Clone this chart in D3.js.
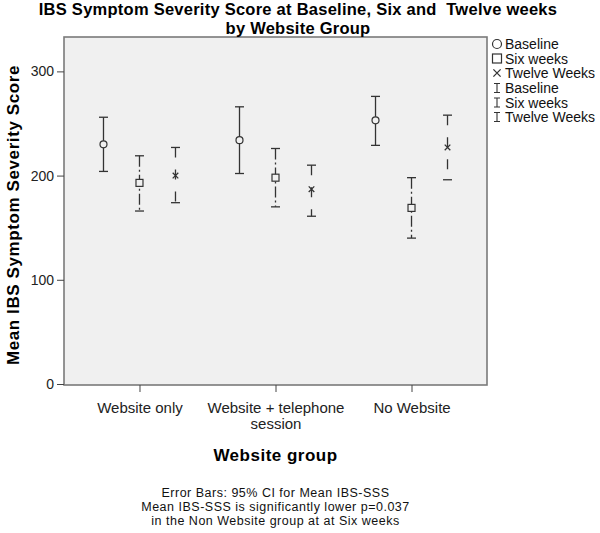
<!DOCTYPE html>
<html>
<head>
<meta charset="utf-8">
<script src="https://cdn.jsdelivr.net/npm/d3@7"></script>
<style>
  body { margin: 0; background: #fff; }
  text { font-family: "Liberation Sans", Arial, sans-serif; white-space: pre; }
</style>
</head>
<body>
<svg id="svg" width="600" height="533"></svg>
<script>
const groups = ['Website only', 'Website + telephone session', 'No Website'];
const series = ['Baseline', 'Six weeks', 'Twelve Weeks'];
const yTicks = [0, 100, 200, 300];

// mean and 95% CI, one array per time point, in group order
const baselineMean = [230, 234, 253];
const baselineLow = [204, 202, 229];
const baselineHigh = [256, 266, 276];
const sixMean = [193, 198, 169];
const sixLow = [166, 170, 140];
const sixHigh = [219, 226, 198];
const twelveMean = [200, 187, 227];
const twelveLow = [174, 161, 196];
const twelveHigh = [227, 210, 258];

const titleLines = ['IBS Symptom Severity Score at Baseline, Six and  Twelve weeks', 'by Website Group'];
const notes = [
  'Error Bars: 95% CI for Mean IBS-SSS',
  'Mean IBS-SSS is significantly lower p=0.037',
  'in the Non Website group at at Six weeks'
];

const margin = { top: 37, right: 113, bottom: 148, left: 64 };
const width = 600 - margin.left - margin.right;
const height = 533 - margin.top - margin.bottom;

const seriesData = [
  { name: series[0], mean: baselineMean, low: baselineLow, high: baselineHigh, dash: null },
  { name: series[1], mean: sixMean, low: sixLow, high: sixHigh, dash: '11,3,2,3' },
  { name: series[2], mean: twelveMean, low: twelveLow, high: twelveHigh, dash: '10,12' }
];

const rows = [];
seriesData.forEach((s) => {
  groups.forEach((g, i) => {
    rows.push({ group: g, series: s.name, mean: s.mean[i], low: s.low[i], high: s.high[i], dash: s.dash });
  });
});

const svg = d3.select('#svg');
const ink = '#333';

const x = d3.scalePoint().domain(groups).range([0, width]).padding(0.555);
const dx = d3.scalePoint().domain(series).range([-36, 36]);
const y = d3.scaleLinear().domain([0, 333]).range([height - 1, 0]);

const g = svg.append('g').attr('transform', 'translate(' + margin.left + ',' + margin.top + ')');

g.append('rect')
  .attr('width', width)
  .attr('height', height)
  .attr('fill', '#f0f0f0')
  .attr('stroke', '#7a7a7a')
  .attr('stroke-width', 1.6);

// y axis
const yAxis = d3.axisLeft(y).tickValues(yTicks).tickSize(7).tickPadding(3);
const ya = g.append('g').call(yAxis);
ya.select('.domain').remove();
ya.selectAll('line').attr('stroke', '#444');
ya.selectAll('text').attr('font-size', 14).attr('fill', '#222').style('font-family', '"Liberation Sans", Arial, sans-serif');

// x axis, long labels wrapped
const xAxis = d3.axisBottom(x).tickSize(7).tickPadding(5);
const xa = g.append('g').attr('transform', 'translate(0,' + height + ')').call(xAxis);
xa.select('.domain').remove();
xa.selectAll('line').attr('stroke', '#444');
xa.selectAll('text')
  .attr('font-size', 15)
  .attr('fill', '#222')
  .style('font-family', '"Liberation Sans", Arial, sans-serif')
  .each(function (d) {
    const t = d3.select(this);
    const words = d.split(' ');
    t.text(null);
    let line = [];
    let tspan = t.append('tspan').attr('x', 0).attr('dy', '1.05em');
    words.forEach((w) => {
      line.push(w);
      tspan.text(line.join(' '));
      if (tspan.node().getComputedTextLength() > 150 && line.length > 1) {
        line.pop();
        tspan.text(line.join(' '));
        line = [w];
        tspan = t.append('tspan').attr('x', 0).attr('dy', '1.05em').text(w);
      }
    });
  });

// error bars
const cap = 4.5;
const bars = g.append('g').selectAll('g')
  .data(rows)
  .join('g')
  .attr('transform', (d) => 'translate(' + (x(d.group) + dx(d.series)) + ',0)');

bars.append('line')
  .attr('y1', (d) => y(d.high))
  .attr('y2', (d) => y(d.low))
  .attr('stroke', ink)
  .attr('stroke-width', 1.3)
  .attr('stroke-dasharray', (d) => d.dash);

bars.append('line')
  .attr('x1', -cap).attr('x2', cap)
  .attr('y1', (d) => y(d.high)).attr('y2', (d) => y(d.high))
  .attr('stroke', ink).attr('stroke-width', 1.3);

bars.append('line')
  .attr('x1', -cap).attr('x2', cap)
  .attr('y1', (d) => y(d.low)).attr('y2', (d) => y(d.low))
  .attr('stroke', ink).attr('stroke-width', 1.3);

function drawMarker(sel, name, size) {
  if (name === series[0]) {
    sel.append('circle').attr('r', size / 2).attr('fill', '#f0f0f0').attr('stroke', ink).attr('stroke-width', 1.2);
  } else if (name === series[1]) {
    sel.append('rect').attr('x', -size / 2).attr('y', -size / 2).attr('width', size).attr('height', size)
      .attr('fill', '#f0f0f0').attr('stroke', ink).attr('stroke-width', 1.2);
  } else {
    const h = size * 0.4;
    sel.append('path').attr('d', `M${-h},${-h}L${h},${h}M${-h},${h}L${h},${-h}`)
      .attr('stroke', ink).attr('stroke-width', 1.3).attr('fill', 'none');
  }
}

bars.append('g')
  .attr('transform', (d) => 'translate(0,' + y(d.mean) + ')')
  .each(function (d) { drawMarker(d3.select(this), d.series, 7); });

// titles
svg.append('text')
  .attr('text-anchor', 'middle')
  .attr('font-size', 16.5)
  .attr('letter-spacing', 0.25)
  .attr('font-weight', 'bold')
  .selectAll('tspan')
  .data(titleLines)
  .join('tspan')
  .attr('x', 298)
  .attr('y', (d, i) => 15 + i * 18.5)
  .text((d) => d);

svg.append('text')
  .attr('transform', 'translate(19,215) rotate(-90)')
  .attr('text-anchor', 'middle')
  .attr('font-size', 17)
  .attr('letter-spacing', 0.6)
  .attr('font-weight', 'bold')
  .text('Mean IBS Symptom Severity Score');

svg.append('text')
  .attr('x', margin.left + width / 2)
  .attr('y', 461)
  .attr('text-anchor', 'middle')
  .attr('font-size', 17)
  .attr('letter-spacing', 0.5)
  .attr('font-weight', 'bold')
  .text('Website group');

svg.append('g').selectAll('text')
  .data(notes)
  .join('text')
  .attr('x', margin.left + width / 2)
  .attr('y', (d, i) => 497 + i * 14)
  .attr('text-anchor', 'middle')
  .attr('font-size', 12.5)
  .attr('letter-spacing', 0.5)
  .attr('fill', '#111')
  .text((d) => d);

// legend
const legendRows = series.map((s) => ({ kind: 'marker', name: s }))
  .concat(series.map((s) => ({ kind: 'bar', name: s })));
const legendY = [44, 58.5, 73, 88, 102.5, 117];

const leg = svg.append('g').selectAll('g')
  .data(legendRows)
  .join('g')
  .attr('transform', (d, i) => 'translate(497,' + legendY[i] + ')');

leg.each(function (d) {
  const s = d3.select(this);
  if (d.kind === 'marker') {
    drawMarker(s, d.name, 9);
    s.select('circle, rect').attr('fill', '#fff');
  } else {
    s.append('path').attr('d', 'M-3,-4.5H3M0,-4.5V4.5M-3,4.5H3')
      .attr('stroke', ink).attr('stroke-width', 1.1).attr('fill', 'none');
  }
});

leg.append('text')
  .attr('x', 8)
  .attr('y', 5)
  .attr('font-size', 14)
  .attr('fill', '#111')
  .text((d) => d.name);
</script>
</body>
</html>
